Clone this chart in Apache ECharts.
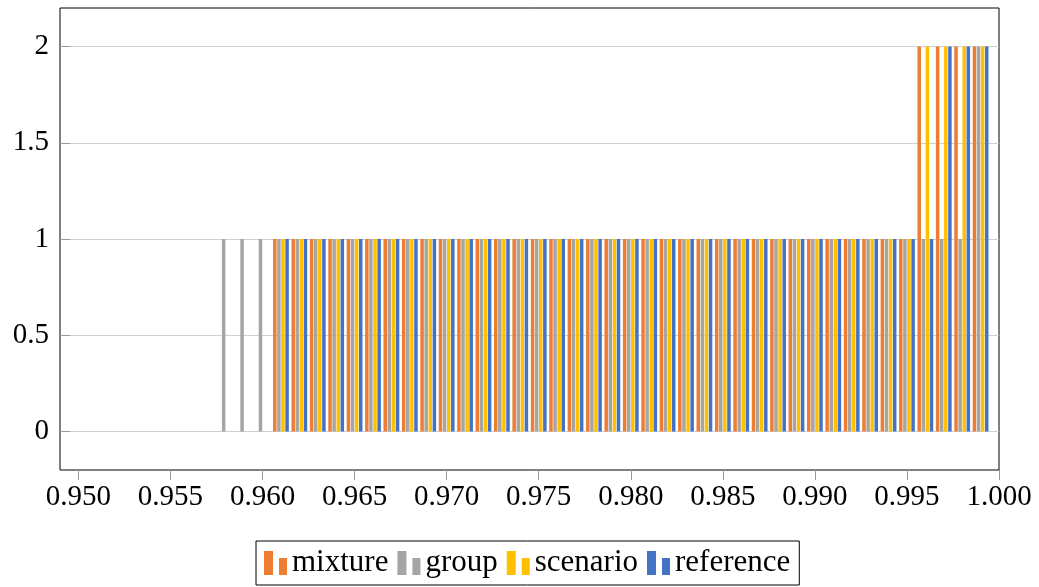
<!DOCTYPE html>
<html>
<head>
<meta charset="utf-8">
<script src="https://cdn.jsdelivr.net/npm/echarts@6/dist/echarts.min.js"></script>
<style>
  html, body { margin: 0; padding: 0; background: #fff; }
  #chart { width: 1039px; height: 587px; }
</style>
</head>
<body>
<div id="chart"></div>
<script>
// x positions of the bar groups
const xValues = [
  0.958, 0.959, 0.960, 0.961, 0.962, 0.963, 0.964, 0.965, 0.966, 0.967,
  0.968, 0.969, 0.970, 0.971, 0.972, 0.973, 0.974, 0.975, 0.976, 0.977,
  0.978, 0.979, 0.980, 0.981, 0.982, 0.983, 0.984, 0.985, 0.986, 0.987,
  0.988, 0.989, 0.990, 0.991, 0.992, 0.993, 0.994, 0.995, 0.996, 0.997,
  0.998, 0.999
]
// bar heights per series (null = no bar)
const mixture = [
  null, null, null, 1, 1, 1, 1, 1, 1, 1,
  1, 1, 1, 1, 1, 1, 1, 1, 1, 1,
  1, 1, 1, 1, 1, 1, 1, 1, 1, 1,
  1, 1, 1, 1, 1, 1, 1, 1, 2, 2,
  2, 2
]
const group = [
  1, 1, 1, 1, 1, 1, 1, 1, 1, 1,
  1, 1, 1, 1, 1, 1, 1, 1, 1, 1,
  1, 1, 1, 1, 1, 1, 1, 1, 1, 1,
  1, 1, 1, 1, 1, 1, 1, 1, 1, 1,
  1, 2
]
const scenario = [
  null, null, null, 1, 1, 1, 1, 1, 1, 1,
  1, 1, 1, 1, 1, 1, 1, 1, 1, 1,
  1, 1, 1, 1, 1, 1, 1, 1, 1, 1,
  1, 1, 1, 1, 1, 1, 1, 1, 2, 2,
  2, 2
]
const reference = [
  null, null, null, 1, 1, 1, 1, 1, 1, 1,
  1, 1, 1, 1, 1, 1, 1, 1, 1, 1,
  1, 1, 1, 1, 1, 1, 1, 1, 1, 1,
  1, 1, 1, 1, 1, 1, 1, 1, 1, 2,
  2, 2
]
// tick labels
const xTicks = [0.950, 0.955, 0.960, 0.965, 0.970, 0.975, 0.980, 0.985, 0.990, 0.995, 1.000]
const yTicks = [0, 0.5, 1, 1.5, 2]

const seriesNames = ['mixture', 'group', 'scenario', 'reference']
const seriesValues = [mixture, group, scenario, reference]
const colors = ['#ED7D31', '#A5A5A5', '#FFC000', '#4472C4']

const font = '"Liberation Serif", "DejaVu Serif", serif'
// two little bars, like the pgfplots ybar legend image
const barIcon = 'path://M0,0H9V24H0Z M15,7H23V24H15Z'

function toPairs(values) {
  const out = []
  values.forEach((v, i) => {
    if (v !== null) out.push([xValues[i], v])
  })
  return out
}

const chart = echarts.init(document.getElementById('chart'), null, { renderer: 'canvas' })

chart.setOption({
  animation: false,
  color: colors,
  grid: {
    left: 60,
    right: 40,
    top: 8,
    bottom: 117,
    show: true,
    borderColor: '#000',
    borderWidth: 1
  },
  legend: {
    data: seriesNames.map(n => ({ name: n, icon: barIcon })),
    left: 256,
    top: 541,
    orient: 'horizontal',
    itemWidth: 23,
    itemHeight: 24,
    itemGap: 9,
    padding: [4, 9, 4, 8],
    borderColor: '#000',
    borderWidth: 1,
    borderRadius: 0,
    textStyle: {
      fontFamily: font,
      fontSize: 31,
      color: '#000',
      lineHeight: 36
    }
  },
  xAxis: {
    type: 'value',
    min: 0.949,
    max: 1.0,
    axisLine: { show: false, onZero: false },
    splitLine: { show: false },
    axisTick: {
      show: true,
      inside: false,
      length: 10,
      customValues: xTicks,
      lineStyle: { color: '#999', width: 1 }
    },
    axisLabel: {
      customValues: xTicks,
      formatter: v => v.toFixed(3),
      fontFamily: font,
      fontSize: 29,
      color: '#000',
      margin: 13
    }
  },
  yAxis: {
    type: 'value',
    min: -0.2,
    max: 2.2,
    axisLine: { show: false, onZero: false },
    axisTick: {
      show: true,
      inside: true,
      length: 10,
      customValues: yTicks,
      lineStyle: { color: '#999', width: 1 }
    },
    splitLine: {
      show: true,
      lineStyle: { color: '#d0d0d0', width: 1 }
    },
    axisLabel: {
      customValues: yTicks,
      fontFamily: font,
      fontSize: 29,
      color: '#000',
      margin: 11
    }
  },
  series: seriesNames.map((name, i) => ({
    name: name,
    type: 'bar',
    data: toPairs(seriesValues[i]),
    barWidth: 3.5,
    barGap: '17%',
    itemStyle: { color: colors[i] }
  }))
})
</script>
</body>
</html>
